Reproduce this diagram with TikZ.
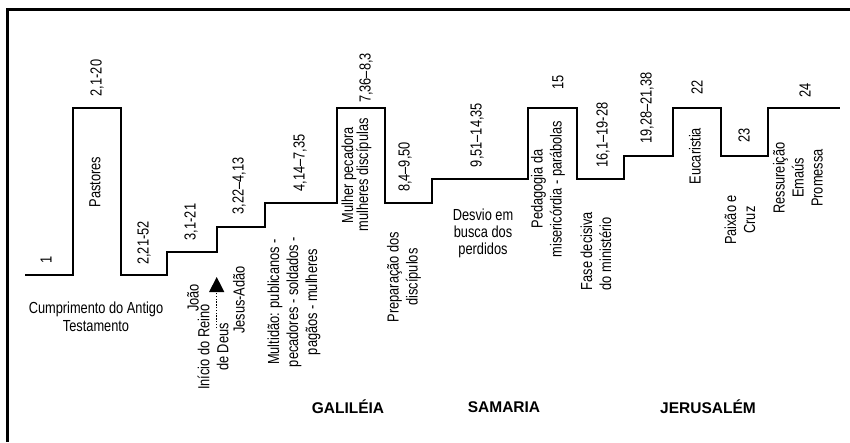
\documentclass[tikz,border=0pt]{standalone}
\usepackage{fontspec}
\setmainfont[FakeStretch=0.8]{Liberation Sans}
\newfontfamily\regionfont{Liberation Sans}
\usetikzlibrary{arrows.meta,positioning}

\begin{document}
\begin{tikzpicture}[
  x=1pt,y=-1pt,
  every node/.style={inner sep=0pt,font=\fontsize{16}{19}\selectfont},
  ref/.style={rotate=90},
  note/.style={rotate=90,align=center},
  region/.style={font=\regionfont\bfseries\fontsize{15.5}{18}\selectfont},
  stairs/.style={line width=2pt,line join=miter},
  frame/.style={line width=3pt},
  pointer/.style={-{Triangle[length=15pt,width=15pt]},dash pattern=on 1.4pt off 1.4pt,line width=1.3pt}
]
\useasboundingbox (0,0) rectangle (850,442);
\draw[frame] (850,9.7) -| (7.5,442);

% the steps
\draw[stairs] (25,275) -- (72.7,275) -- (72.7,107.7) -- (120.7,107.7) -- (120.7,275)
  -- (167,275) -- (167,251.7) -- (216.7,251.7) -- (216.7,226.7) -- (265,226.7)
  -- (265,203.3) -- (336.7,203.3) -- (336.7,107.7) -- (385,107.7) -- (385,203.3)
  -- (431.7,203.3) -- (431.7,179) -- (528.3,179) -- (528.3,107.7) -- (576.7,107.7)
  -- (576.7,179) -- (624,179) -- (624,155.7) -- (672.7,155.7) -- (672.7,107.7)
  -- (720.7,107.7) -- (720.7,155.7) -- (768.3,155.7) -- (768.3,107.7) -- (840,107.7);

% chapter references
\node[ref] (c1) at (46,260) {1};
\node[ref] (c2a) at (97,78) {2,1-20};
\node[ref] (c2b) at (144,243) {2,21-52};
\node[ref] (c3a) at (191,222) {3,1-21};
\node[ref] (c3b) at (239,186) {3,22--4,13};
\node[ref] (c4) at (300,163) {4,14--7,35};
\node[ref] (c7) at (366,78) {7,36--8,3};
\node[ref] (c8) at (405,167) {8,4--9,50};
\node[ref] (c9) at (477,135) {9,51--14,35};
\node[ref] (c15) at (558,82) {15};
\node[ref] (c16) at (603,135) {16,1--19-28};
\node[ref] (c19) at (647,108) {19,28--21,38};
\node[ref] (c22) at (697,87) {22};
\node[ref] (c23) at (744,135) {23};
\node[ref] (c24) at (805,90) {24};

% themes
\node[ref] (pastores) at (95,182) {Pastores};
\node[note] (mulher) at (356.5,175) {Mulher pecadora\\[-4pt]mulheres discípulas};
\node[align=center,font=\fontsize{16}{17}\selectfont] (desvio) at (483,233) {Desvio em\\busca dos\\perdidos};
\node[note] (pedagogia) at (548,189) {Pedagogia da\\misericórdia - parábolas};
\node[rotate=90,align=left] (fase) at (596,251) {Fase decisiva\\do ministério};
\node[ref] (eucaristia) at (695,156) {Eucaristia};
\node[note] (paixao) at (740,220) {Paixão e\\Cruz};
\node[note] (ressur) at (798,178) {Ressureição\\Emaús\\Promessa};

\node[align=center,font=\fontsize{16}{18}\selectfont] (antigo) at (96,317) {Cumprimento do Antigo\\Testamento};
\node[ref] (joao) at (193,298) {João};
\node[note] (reino) at (213,347) {Início do Reino\\de Deus};
\node[ref] (adao) at (239,300) {Jesus-Adão};
\node[note] (multidao) at (294,302) {Multidão: publicanos -\\pecadores - soldados -\\pagãos - mulheres};
\node[note] (preparo) at (404,277) {Preparação dos\\discípulos};

\coordinate (pbase) at (216.7,328);
\coordinate (ptip) at (216.7,277);
\draw[pointer] (pbase) -- (ptip);

% regions
\node[region] (galileia) at (348,407) {GALILÉIA};
\node[region] (samaria) at (504,407) {SAMARIA};
\node[region] (jerusalem) at (708,407) {JERUSALÉM};
\end{tikzpicture}
\end{document}
